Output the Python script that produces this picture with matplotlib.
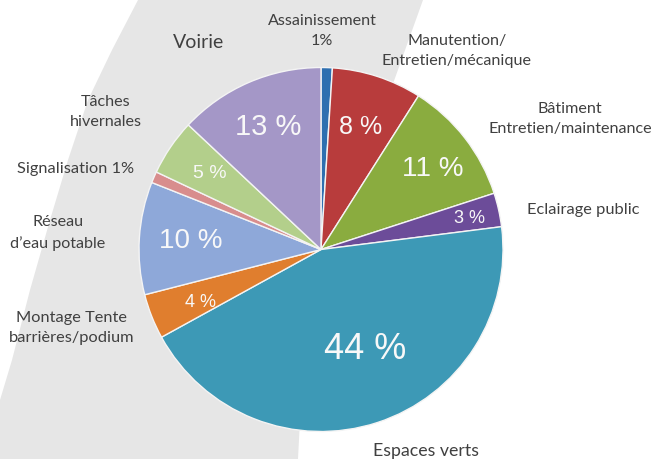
import numpy as np
import matplotlib
matplotlib.use("Agg")
import matplotlib.pyplot as plt
from matplotlib.patches import Polygon

# data (clockwise from top)
categories = ["Assainissement", "Manutention", "Bâtiment", "Eclairage public",
              "Espaces verts", "Montage Tente", "Réseau", "Signalisation",
              "Tâches hivernales", "Voirie"]
values = [1, 8, 11, 3, 44, 4, 10, 1, 5, 13]
pct_labels = ["", "8 %", "11 %", "3 %", "44 %", "4 %", "10 %", "", "5 %", "13 %"]
outer_labels = ["Assainissement\n1%", "Manutention/\nEntretien/mécanique",
                "Bâtiment\nEntretien/maintenance", "Eclairage public",
                "Espaces verts", "Montage Tente\nbarrières/podium",
                "Réseau\nd\u2019eau potable", "Signalisation 1%",
                "Tâches\nhivernales", "Voirie"]

# styles
colors = ["#2e6fb0", "#b83c3c", "#8aac3f", "#6c4c99", "#3d99b6",
          "#e07e2e", "#8ea8d9", "#d88d8d", "#b3cf8b", "#a497c7"]
pct_sizes = [0, 18, 20, 13, 26, 13, 20, 0, 14, 21]
pct_dist = [0, 0.71, 0.76, 0.835, 0.6, 0.725, 0.715, 0, 0.74, 0.733]
pct_shift = [0, 0, -2, -1, 6, 2, 0, 0, 0, 0]   # degrees
# outer label centres in pixels (from top-left)
outer_pos = [(322, 31), (457, 51), (570, 119), (583, 210), (426, 451),
             (72, 328), (58, 233), (76, 169), (106, 112), (199, 43)]
outer_sizes = [11.6, 11.6, 11.6, 11.8, 12.8, 11.8, 11.6, 11.8, 11.6, 14]

W, H = 652, 459
cx, cy, rpx = 321, 249.5, 182   # pie centre / radius in pixels

fig = plt.figure(figsize=(W / 100, H / 100), dpi=100)
ax = fig.add_axes([0, 0, 1, 1])

# grey background band
left = [(138, 0), (112, 50), (88, 100), (68, 160), (50, 220), (30, 290),
        (12, 360), (0, 400), (0, 459)]
right = [(298, 459), (300, 420), (315, 330), (340, 240), (380, 120), (423, 0)]
pts = [(x / W, 1 - y / H) for x, y in left + right]
ax.add_patch(Polygon(pts, closed=True, facecolor="#e6e6e6", edgecolor="none",
                     transform=ax.transAxes, zorder=0))

wedges, _ = ax.pie(values, colors=colors, startangle=90, counterclock=False,
                   radius=1, wedgeprops=dict(edgecolor="#f4f4f4", linewidth=1))
for w in wedges:
    w.set_zorder(2)

for w, lab, fs, d, sh in zip(wedges, pct_labels, pct_sizes, pct_dist, pct_shift):
    if not lab:
        continue
    ang = np.deg2rad((w.theta1 + w.theta2) / 2 + sh)
    ax.text(d * np.cos(ang), d * np.sin(ang), lab, ha="center", va="center",
            fontsize=fs, color="#f8f8f8", family="Liberation Sans", zorder=3)

ax.set_xlim(-cx / rpx, (W - cx) / rpx)
ax.set_ylim(-(H - cy) / rpx, cy / rpx)
ax.set_aspect("auto")
ax.axis("off")

for lab, (px, py), fs in zip(outer_labels, outer_pos, outer_sizes):
    ax.text(px / W, 1 - py / H, lab, transform=ax.transAxes, ha="center",
            va="center", fontsize=fs, color="#404040", family="Lato",
            linespacing=1.55, zorder=4)

fig.savefig("out.png", dpi=100, facecolor="white")
